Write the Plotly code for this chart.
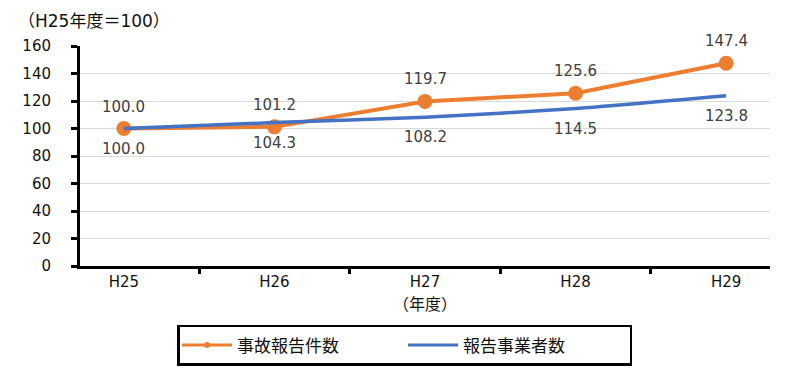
import plotly.graph_objects as go

categories = ["H25", "H26", "H27", "H28", "H29"]
accidents = [100.0, 101.2, 119.7, 125.6, 147.4]
operators = [100.0, 104.3, 108.2, 114.5, 123.8]
y_ticks = [0, 20, 40, 60, 80, 100, 120, 140, 160]

ORANGE = "#ED7D31"
BLUE = "#4472C4"
FONT = "DejaVu Sans, Noto Sans CJK JP, sans-serif"
CJK = "Noto Sans CJK JP, DejaVu Sans, sans-serif"

fig = go.Figure()
fig.add_trace(go.Scatter(
    x=categories, y=accidents, name="事故報告件数", mode="lines+markers",
    line=dict(color=ORANGE, width=4), marker=dict(color=ORANGE, size=15),
    showlegend=False, legendgroup="a",
))
fig.add_trace(go.Scatter(
    x=categories, y=operators, name="報告事業者数", mode="lines",
    line=dict(color=BLUE, width=3.5, shape="spline", smoothing=0.6),
    showlegend=False, legendgroup="b",
))
# legend-only entries (smaller symbols, as in the reference legend)
fig.add_trace(go.Scatter(
    x=[None], y=[None], name="事故報告件数", mode="lines+markers",
    line=dict(color=ORANGE, width=3), marker=dict(color=ORANGE, size=6),
    legendgroup="a",
))
fig.add_trace(go.Scatter(
    x=[None], y=[None], name="報告事業者数", mode="lines",
    line=dict(color=BLUE, width=3), legendgroup="b",
))

for c, v in zip(categories, accidents):
    fig.add_annotation(x=c, y=v, text=f"{v:.1f}", showarrow=False, yshift=22,
                       font=dict(size=15, color="#404040", family=FONT))
for c, v in zip(categories, operators):
    fig.add_annotation(x=c, y=v, text=f"{v:.1f}", showarrow=False, yshift=-20,
                       font=dict(size=15, color="#404040", family=FONT))

fig.add_annotation(xref="paper", yref="paper", x=-0.093, y=1.114, text="（H25年度＝100）",
                   showarrow=False, xanchor="left", yanchor="middle",
                   font=dict(size=17, color="#111111", family=FONT))

fig.update_layout(
    width=792, height=362,
    margin=dict(l=72, r=30, t=38, b=104, pad=0, autoexpand=False),
    paper_bgcolor="white", plot_bgcolor="white",
    font=dict(family=FONT, size=15, color="#111111"),
    showlegend=True,
    legend=dict(orientation="h", x=(177 - 80) / 690, y=-0.268, xanchor="left", yanchor="top",
                bordercolor="black", borderwidth=2.5, bgcolor="white",
                font=dict(size=17, color="#111111", family=CJK),
                entrywidth=161, entrywidthmode="pixels", itemwidth=50,
                tracegroupgap=0),
    xaxis=dict(
        type="category", tickson="boundaries", ticks="outside", ticklen=5, tickwidth=3,
        tickcolor="black", showline=True, linecolor="black", linewidth=3,
        showgrid=False, title=dict(text="（年度）", standoff=9, font=dict(size=16)),
        tickfont=dict(size=15, color="#111111"), automargin=False,
    ),
    yaxis=dict(
        range=[0, 160], tickvals=y_ticks, ticks="outside", ticklen=6, tickwidth=3,
        tickcolor="black", showline=True, linecolor="black", linewidth=3,
        showgrid=True, gridcolor="#D9D9D9", gridwidth=1, zeroline=False,
        tickfont=dict(size=15, color="#111111"), automargin=False,
        ticklabelstandoff=17,
    ),
)

fig.write_html("out.html")
